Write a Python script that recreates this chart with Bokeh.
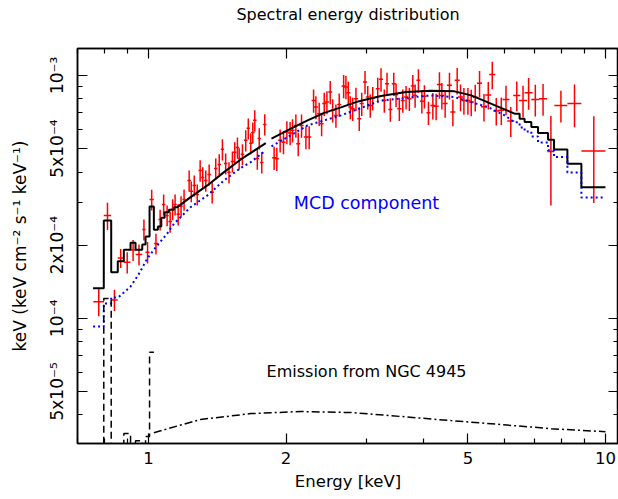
import math
from bokeh.plotting import figure
from bokeh.models import Range1d, FixedTicker, LogAxis, ColumnDataSource, Label
from bokeh.embed import file_html
from bokeh.resources import INLINE

UNIT = 1e-4  # flux values below are in units of 1e-4 keV^2 cm^-2 s^-1 keV^-1
NAN = float("nan")

# ---- observed spectrum (red crosses) ----
E = [0.778, 0.813, 0.842, 0.869, 0.898, 0.925, 0.953, 0.977, 0.995, 1.016, 1.038,
     1.060, 1.079, 1.098, 1.115, 1.129, 1.143, 1.161, 1.178, 1.196, 1.227, 1.240, 1.259, 1.278,
     1.297, 1.314, 1.334, 1.357, 1.378, 1.403, 1.428, 1.451, 1.475, 1.500, 1.526, 1.544, 1.565,
     1.579, 1.605, 1.632, 1.653, 1.674, 1.691, 1.708, 1.730, 1.747, 1.769, 1.796,
     1.883, 1.909, 1.941, 1.974, 2.008, 2.041, 2.066, 2.101, 2.126, 2.162, 2.210, 2.247, 2.297,
     2.324, 2.363, 2.392, 2.424, 2.457, 2.498, 2.529, 2.571, 2.614, 2.673, 2.704, 2.736, 2.764,
     2.797, 2.844, 2.892, 2.928, 2.977, 3.018, 3.057, 3.095, 3.174, 3.227, 3.281, 3.326, 3.382,
     3.441, 3.481, 3.539, 3.601, 3.661, 3.723, 3.787, 3.832, 3.896, 3.964, 4.016, 4.098,
     4.190, 4.260, 4.332, 4.385, 4.458, 4.556, 4.635, 4.737, 4.817, 4.900, 5.000, 5.084, 5.188,
     5.302, 5.421, 5.540, 5.653, 5.768, 5.916, 6.058, 6.206, 6.397, 6.601, 6.790, 7.023, 7.302,
     7.596, 7.99, 8.556, 9.43]
E_err = [0.021, 0.015, 0.014, 0.013, 0.015, 0.012, 0.016, 0.008, 0.010, 0.011, 0.010,
         0.009, 0.009, 0.009, 0.010, 0.010, 0.010, 0.010, 0.010, 0.010, 0.011, 0.011, 0.011, 0.011,
         0.011, 0.011, 0.011, 0.012, 0.012, 0.012, 0.012, 0.012, 0.013, 0.013, 0.013, 0.013, 0.013,
         0.014, 0.014, 0.014, 0.014, 0.014, 0.015, 0.015, 0.015, 0.015, 0.015, 0.015,
         0.019, 0.019, 0.020, 0.020, 0.020, 0.021, 0.021, 0.021, 0.021, 0.022, 0.022, 0.023, 0.023,
         0.023, 0.024, 0.024, 0.024, 0.025, 0.025, 0.026, 0.026, 0.026, 0.027, 0.027, 0.028, 0.028,
         0.028, 0.029, 0.029, 0.030, 0.030, 0.030, 0.031, 0.031, 0.032, 0.033, 0.033, 0.034, 0.034,
         0.035, 0.035, 0.036, 0.036, 0.037, 0.038, 0.038, 0.039, 0.039, 0.040, 0.041, 0.041,
         0.053, 0.054, 0.055, 0.056, 0.057, 0.058, 0.059, 0.060, 0.061, 0.062, 0.064, 0.065, 0.066,
         0.067, 0.082, 0.084, 0.086, 0.088, 0.090, 0.108, 0.110, 0.114, 0.135, 0.139, 0.143, 0.149,
         0.134, 0.26, 0.30, 0.57]
F = [1.17, 2.65, 1.19, 1.77, 1.70, 1.91, 1.83, 2.32, 1.87, 3.08, 2.03,
     2.55, 2.94, 2.65, 2.50, 2.81, 2.94, 2.68, 2.89, 3.08, 3.69, 3.33, 3.52, 3.23,
     4.06, 3.80, 3.69, 3.91, 3.30, 4.14, 4.30, 4.96, 4.34, 3.99, 4.42, 4.82, 5.05,
     4.55, 4.73, 5.40, 6.05, 5.25, 5.82, 6.53, 4.55, 5.50, 4.38, 6.28,
     4.58, 4.54, 5.40, 5.31, 5.84, 5.79, 5.94, 6.22, 5.23, 6.22, 5.57, 5.57, 7.88,
     7.40, 6.95, 6.32, 7.65, 7.76, 8.54, 7.18, 6.84, 7.59, 9.04, 8.95, 8.49, 7.40,
     7.29, 8.02, 6.63, 7.65, 9.39, 8.14, 7.52, 8.06, 8.81, 9.63, 7.88, 9.24, 7.24,
     9.24, 8.33, 7.29, 7.88, 8.14, 8.02, 9.04, 8.27, 9.54, 7.82, 8.20, 7.02,
     7.52, 7.47, 9.16, 8.27, 7.65, 9.10, 7.06, 9.54, 8.14, 7.88, 7.88, 7.76, 8.12,
     9.27, 7.42, 8.31, 10.07, 7.14, 7.18, 7.96, 6.49, 8.27, 7.88, 8.49, 7.96, 8.02,
     4.86, 7.52, 7.65, 4.88]
F_err = [0.15, 0.34, 0.12, 0.16, 0.17, 0.19, 0.18, 0.23, 0.19, 0.30, 0.20,
         0.25, 0.29, 0.26, 0.25, 0.28, 0.29, 0.27, 0.29, 0.31, 0.37, 0.33, 0.35, 0.32,
         0.41, 0.38, 0.37, 0.39, 0.33, 0.41, 0.43, 0.50, 0.43, 0.40, 0.44, 0.48, 0.50,
         0.46, 0.47, 0.54, 0.60, 0.52, 0.58, 0.65, 0.46, 0.55, 0.44, 0.63,
         0.50, 0.50, 0.59, 0.58, 0.64, 0.64, 0.65, 0.68, 0.58, 0.68, 0.61, 0.61, 0.87,
         0.81, 0.76, 0.70, 0.84, 0.85, 0.94, 0.79, 0.75, 0.83, 0.99, 0.98, 0.93, 0.81,
         0.80, 0.88, 0.73, 0.84, 1.03, 0.90, 0.83, 0.89, 0.97, 1.06, 0.87, 1.02, 0.80,
         1.02, 0.92, 0.80, 0.87, 0.90, 0.88, 0.99, 0.91, 1.05, 0.86, 0.90, 0.77,
         0.94, 0.93, 1.15, 1.03, 0.96, 1.14, 0.88, 1.19, 1.02, 0.99, 0.99, 0.97, 1.02,
         1.16, 0.96, 1.08, 1.31, 0.93, 0.93, 1.11, 0.91, 1.16, 1.18, 1.27, 1.19, 1.20,
         1.95, 1.13, 1.53, 1.90]

# ---- total model (black histogram) ----
tot_lo_edges = [0.7561, 0.7980, 0.8284, 0.8563, 0.8828, 0.9132, 0.9365, 0.9687, 0.9850,
                1.0051, 1.0271, 1.0481, 1.0662, 1.0842, 1.1079, 1.1363, 1.1559]
tot_lo_vals = [1.329, 2.527, 1.547, 1.718, 1.913, 2.045, 1.913, 2.012, 2.171, 2.885,
               2.313, 2.387, 2.593, 2.734, 2.797, 2.867]
tot_mid_E = [1.1559, 1.2362, 1.3450, 1.4625, 1.5913, 1.8054, NAN, 1.8581, 2.0486, 2.2288,
             2.4237, 2.6367, 2.8444, 3.2270, 3.6613, 4.1523, 4.6729, 5.0841, 5.5315, 6.0153, 6.3265]
tot_mid_F = [2.867, 3.152, 3.523, 3.996, 4.507, 5.262, NAN, 5.486, 6.031, 6.525,
             7.008, 7.383, 7.762, 8.218, 8.535, 8.650, 8.592, 8.271, 7.741, 7.243, 6.954]
hi_edges = [6.3265, 6.4880, 6.6540, 6.8830, 7.1197, 7.4881, 7.7180, 8.2550, 8.8580, 10.0]
tot_hi_vals = [6.954, 6.631, 6.421, 6.124, 5.786, 5.435, 4.956, 4.328, 3.466]

# ---- MCD component (blue dotted) ----
mcd_lo_edges = [0.7561, 0.7980, 0.8284, 0.8563]
mcd_lo_vals = [0.924, 1.150, 1.217]
mcd_mid_E = [0.8563, 0.8682, 0.9132, 0.9508, 0.9935, 1.0360, 1.0991, 1.1363, 1.2362, 1.3450,
             1.4625, 1.5913, 1.6737, 1.8054, NAN, 1.8581, 2.2288, 2.6367, 3.2270, 4.1523,
             4.6729, 5.0841, 5.5315, 6.0153, 6.3265]
mcd_mid_F = [1.217, 1.240, 1.351, 1.513, 1.762, 1.956, 2.234, 2.449, 2.867, 3.203,
             3.693, 4.158, 4.393, 4.911, NAN, 5.099, 6.223, 6.843, 7.882, 8.271,
             8.140, 7.762, 7.402, 6.843, 6.404]
mcd_hi_vals = [6.404, 6.106, 5.879, 5.607, 5.297, 4.911, 4.608, 3.984, 3.143]

# ---- emission from NGC 4945 (black dash-dot) ----
ngc_lo_edges = [0.7561, 0.7980, 0.8284, 0.8563, 0.8828, 0.9132, 0.9365, 0.9687, 0.9850,
                1.0051, 1.0271]
ngc_lo_vals = [0.2, 1.206, 0.2, 0.2, 0.335, 0.308, 0.313, 0.29, 0.326, 0.724]
ngc_mid_E = [1.0271, 1.300, 1.674, 2.154, 2.772, 3.568, 4.591, 5.907, 7.601, 10.0]
ngc_mid_F = [0.338, 0.383, 0.405, 0.413, 0.409, 0.394, 0.379, 0.365, 0.351, 0.341]

# ---- axes ----
x_ticks = [1, 2, 5, 10]
x_tick_labels = ["1", "2", "5", "10"]
x_minor = [0.7, 0.8, 0.9, 3, 4, 6, 7, 8, 9]
y_ticks = [5e-5, 1e-4, 2e-4, 5e-4, 1e-3]
y_tick_labels = ["5x10\u207b\u2075", "10\u207b\u2074", "2x10\u207b\u2074", "5x10\u207b\u2074", "10\u207b\u00b3"]
y_minor = [3e-5, 4e-5, 6e-5, 7e-5, 8e-5, 9e-5, 3e-4, 4e-4, 6e-4, 7e-4, 8e-4, 9e-4]

TITLE = "Spectral energy distribution"
FONT = "DejaVu Sans"


def steps(edges, vals):
    xs, ys = [], []
    for i, v in enumerate(vals):
        xs += [edges[i], edges[i + 1]]
        ys += [v, v]
    return xs, ys


def scaled(vals):
    return [v * UNIT for v in vals]


p = figure(width=618, height=499, x_axis_type="log", y_axis_type="log",
           x_range=Range1d(0.699, 10.68), y_range=Range1d(3.05e-5, 1.29e-3),
           output_backend="svg", toolbar_location=None,
           min_border_left=77, min_border_right=0, min_border_top=48, min_border_bottom=56)
p.xgrid.visible = False
p.ygrid.visible = False
p.outline_line_color = "black"
p.outline_line_width = 1.5
p.background_fill_color = "white"
p.border_fill_color = "white"


def style_axis(ax, ticks, minor, labels=None):
    ax.ticker = FixedTicker(ticks=ticks, minor_ticks=minor)
    ax.major_tick_in = 10
    ax.major_tick_out = 0
    ax.minor_tick_in = 5
    ax.minor_tick_out = 0
    ax.axis_line_color = "black"
    ax.axis_line_width = 1.5
    ax.major_tick_line_color = "black"
    ax.minor_tick_line_color = "black"
    ax.major_tick_line_width = 1.2
    ax.minor_tick_line_width = 1.2
    ax.major_label_text_font = FONT
    ax.major_label_text_color = "black"
    ax.axis_label_text_font = FONT
    ax.axis_label_text_color = "black"
    ax.axis_label_text_font_style = "normal"
    if labels is None:
        ax.major_label_overrides = {t: "" for t in ticks}
        ax.major_label_text_font_size = "0px"
        ax.major_label_standoff = 0
        ax.axis_label_standoff = 0
    else:
        ax.major_label_overrides = dict(zip(ticks, labels))
        ax.major_label_text_font_size = "16.5px"


xa = p.xaxis[0]
style_axis(xa, x_ticks, x_minor, x_tick_labels)
xa.axis_label = "Energy [keV]"
xa.axis_label_text_font_size = "16.5px"
xa.major_label_standoff = 8
xa.axis_label_standoff = 5

ya = p.yaxis[0]
style_axis(ya, y_ticks, y_minor, y_tick_labels)
ya.major_label_orientation = "parallel"
ya.major_label_text_font_size = "17px"
ya.axis_label = "keV (keV cm\u207b\u00b2 s\u207b\u00b9 keV\u207b\u00b9)"
ya.axis_label_text_font_size = "17px"
ya.major_label_standoff = 10
ya.axis_label_standoff = 15

# top axis: mirrored ticks, its label carries the plot title
top = LogAxis()
style_axis(top, x_ticks, x_minor)
top.axis_label = TITLE
top.axis_label_text_font_size = "16px"
top.axis_label_standoff = 25
p.add_layout(top, "above")
right = LogAxis()
style_axis(right, y_ticks, y_minor)
p.add_layout(right, "right")

# data crosses
x0 = [e - d for e, d in zip(E, E_err)]
x1 = [e + d for e, d in zip(E, E_err)]
y0 = [(f - d) * UNIT for f, d in zip(F, F_err)]
y1 = [(f + d) * UNIT for f, d in zip(F, F_err)]
src = ColumnDataSource(dict(x=E, y=scaled(F), x0=x0, x1=x1, y0=y0, y1=y1))
p.segment(x0="x0", y0="y", x1="x1", y1="y", source=src, line_color="#ff0000", line_width=1.5)
p.segment(x0="x", y0="y0", x1="x", y1="y1", source=src, line_color="#ff0000", line_width=1.5)

# total model
lx, ly = steps(tot_lo_edges, tot_lo_vals)
hx, hy = steps(hi_edges, tot_hi_vals)
p.line(lx + tot_mid_E + hx, scaled(ly + tot_mid_F + hy), line_color="black", line_width=2)

# MCD component
lx, ly = steps(mcd_lo_edges, mcd_lo_vals)
hx, hy = steps(hi_edges, mcd_hi_vals)
p.line(lx + mcd_mid_E + hx, scaled(ly + mcd_mid_F + hy), line_color="#0000ff",
       line_width=2, line_dash="2 3")

# NGC 4945 emission
lx, ly = steps(ngc_lo_edges, ngc_lo_vals)
p.line(lx, scaled(ly), line_color="black", line_width=1.5, line_dash="7 4")
p.line(ngc_mid_E, scaled(ngc_mid_F), line_color="black", line_width=1.5, line_dash="8 3 2 3")

p.add_layout(Label(x=3.0, y=2.97e-4, text="MCD component", text_color="#0000ff",
                   text_font=FONT, text_font_size="17.5px", text_align="center",
                   text_baseline="middle"))
p.add_layout(Label(x=3.0, y=6.03e-5, text="Emission from NGC 4945", text_color="black",
                   text_font=FONT, text_font_size="16px", text_align="center",
                   text_baseline="middle"))

open("out.html", "w").write(file_html(p, INLINE))
